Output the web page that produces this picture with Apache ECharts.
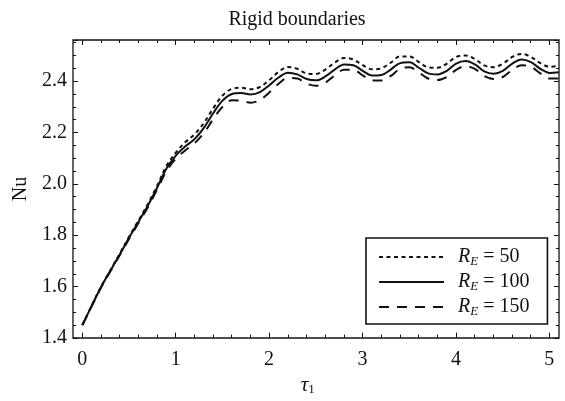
<!DOCTYPE html>
<html>
<head>
<meta charset="utf-8">
<script src="https://cdn.jsdelivr.net/npm/echarts@6/dist/echarts.min.js"></script>
<style>
  html, body { margin: 0; padding: 0; background: #fff; }
  #chart { width: 565px; height: 401px; }
</style>
</head>
<body>
<div id="chart"></div>
<script>
// tau_1 sample points
const tau = [0, 0.1, 0.2, 0.3, 0.4, 0.5, 0.6, 0.7, 0.8, 0.9,
  1.0, 1.1, 1.2, 1.3, 1.4, 1.5, 1.6, 1.7, 1.8, 1.9,
  2.0, 2.1, 2.2, 2.3, 2.4, 2.5, 2.6, 2.7, 2.8, 2.9,
  3.0, 3.1, 3.2, 3.3, 3.4, 3.5, 3.6, 3.7, 3.8, 3.9,
  4.0, 4.1, 4.2, 4.3, 4.4, 4.5, 4.6, 4.7, 4.8, 4.9,
  5.0, 5.1]

// Nu for R_E = 50 (dotted)
const nu50 = [1.450, 1.526, 1.600, 1.664, 1.728, 1.794, 1.857, 1.921, 1.992, 2.070,
  2.122, 2.162, 2.193, 2.237, 2.294, 2.344, 2.370, 2.374, 2.368, 2.377,
  2.404, 2.436, 2.455, 2.448, 2.430, 2.428, 2.445, 2.472, 2.490, 2.484,
  2.462, 2.446, 2.450, 2.472, 2.496, 2.496, 2.474, 2.454, 2.452, 2.468,
  2.494, 2.500, 2.486, 2.461, 2.454, 2.468, 2.494, 2.506, 2.494, 2.470,
  2.456, 2.460]

// Nu for R_E = 100 (solid)
const nu100 = [1.450, 1.525, 1.598, 1.662, 1.725, 1.790, 1.852, 1.915, 1.985, 2.060,
  2.110, 2.145, 2.174, 2.218, 2.275, 2.324, 2.350, 2.354, 2.348, 2.357,
  2.384, 2.414, 2.433, 2.426, 2.408, 2.403, 2.418, 2.445, 2.465, 2.462,
  2.440, 2.422, 2.424, 2.445, 2.470, 2.473, 2.452, 2.430, 2.426, 2.440,
  2.468, 2.478, 2.465, 2.438, 2.429, 2.440, 2.468, 2.484, 2.474, 2.448,
  2.432, 2.434]

// Nu for R_E = 150 (dashed)
const nu150 = [1.450, 1.524, 1.596, 1.660, 1.722, 1.786, 1.848, 1.908, 1.978, 2.050,
  2.098, 2.130, 2.158, 2.198, 2.252, 2.300, 2.325, 2.324, 2.316, 2.326,
  2.356, 2.390, 2.412, 2.410, 2.390, 2.382, 2.394, 2.422, 2.444, 2.444,
  2.422, 2.402, 2.402, 2.420, 2.448, 2.454, 2.434, 2.410, 2.404, 2.416,
  2.444, 2.458, 2.448, 2.420, 2.408, 2.416, 2.444, 2.462, 2.456, 2.430,
  2.410, 2.410]

const legendNames = ['50', '100', '150']

const serif = 'Liberation Serif'
const ink = '#111'

const chart = echarts.init(document.getElementById('chart'))

function pairs (ys) {
  return tau.map((t, i) => [t, ys[i]])
}

function curve (name, ys, dash) {
  return {
    name: name,
    type: 'line',
    xAxisIndex: 0,
    yAxisIndex: 0,
    data: pairs(ys),
    smooth: 0.35,
    symbol: 'none',
    lineStyle: { color: ink, width: 2, type: dash },
    itemStyle: { color: ink },
    z: 3
  }
}

const tickStyle = { color: ink, width: 1 }
const noLine = { show: false, onZero: false }

const options = {
  animation: false,
  backgroundColor: '#fff',
  title: {
    text: 'Rigid boundaries',
    left: 292,
    textAlign: 'center',
    top: 5,
    textStyle: { fontFamily: serif, fontSize: 20, fontWeight: 'normal', color: ink }
  },
  legend: {
    orient: 'vertical',
    left: 366,
    top: 238,
    padding: [9, 18, 6, 12],
    itemWidth: 65,
    itemHeight: 14,
    itemGap: 4,
    borderColor: ink,
    borderWidth: 1.6,
    data: legendNames,
    // hide the marker that the line legend puts in the middle
    itemStyle: { color: 'transparent', borderWidth: 0 },
    formatter: name => '{i|R}{s|E}{t| = ' + name + '}',
    textStyle: {
      fontFamily: serif,
      fontSize: 20,
      color: ink,
      padding: [0, 0, 0, 9],
      rich: {
        i: { fontFamily: serif, fontStyle: 'italic', fontSize: 20, color: ink },
        s: { fontFamily: serif, fontStyle: 'italic', fontSize: 13, color: ink, padding: [9, 0, 0, 0] },
        t: { fontFamily: serif, fontSize: 20, color: ink }
      }
    }
  },
  grid: [
    // frame grid, carries the data
    { left: 73, right: 6, top: 40, bottom: 63, show: true, borderColor: ink, borderWidth: 1.3, backgroundColor: 'transparent' },
    // tick grid for the x axis, 0..5
    { left: 82.3, right: 15.7, top: 40, bottom: 63 }
  ],
  xAxis: [
    {
      gridIndex: 0, type: 'value', min: -0.1, max: 5.1,
      axisLine: noLine, axisTick: { show: false }, axisLabel: { show: false }, splitLine: { show: false }
    },
    {
      gridIndex: 1, type: 'value', min: 0, max: 5, interval: 1, position: 'bottom',
      name: '{i|τ}{s|1}',
      nameLocation: 'middle',
      nameGap: 35,
      nameTextStyle: {
        padding: [0, 16, 0, 0],
        rich: {
          i: { fontFamily: serif, fontStyle: 'italic', fontSize: 21, color: ink },
          s: { fontFamily: serif, fontSize: 13, color: ink, padding: [9, 0, 0, 0] }
        }
      },
      axisLine: noLine,
      axisTick: { inside: true, length: 5, lineStyle: tickStyle },
      minorTick: { show: true, splitNumber: 5, length: 3, lineStyle: tickStyle },
      axisLabel: { fontFamily: serif, fontSize: 20, color: ink, margin: 12 },
      splitLine: { show: false }
    },
    {
      gridIndex: 1, type: 'value', min: 0, max: 5, interval: 1, position: 'top',
      axisLine: noLine,
      axisTick: { inside: true, length: 5, lineStyle: tickStyle },
      minorTick: { show: true, splitNumber: 5, length: 3, lineStyle: tickStyle },
      axisLabel: { show: false },
      splitLine: { show: false }
    }
  ],
  yAxis: [
    {
      gridIndex: 0, type: 'value', min: 1.4, max: 2.56, interval: 0.2, position: 'left',
      name: 'Nu',
      nameLocation: 'middle',
      nameGap: 35,
      nameTextStyle: { fontFamily: serif, fontSize: 20, color: ink },
      axisLine: noLine,
      axisTick: { inside: true, length: 5, lineStyle: tickStyle },
      minorTick: { show: true, splitNumber: 4, length: 3, lineStyle: tickStyle },
      axisLabel: {
        fontFamily: serif, fontSize: 20, color: ink, margin: 6,
        showMaxLabel: false,
        formatter: v => v.toFixed(1)
      },
      splitLine: { show: false }
    },
    {
      gridIndex: 0, type: 'value', min: 1.4, max: 2.56, interval: 0.2, position: 'right',
      axisLine: noLine,
      axisTick: { inside: true, length: 5, lineStyle: tickStyle },
      minorTick: { show: true, splitNumber: 4, length: 3, lineStyle: tickStyle },
      axisLabel: { show: false },
      splitLine: { show: false }
    },
    {
      // helper axis so the tick grid is complete
      gridIndex: 1, type: 'value', min: 0, max: 1, show: false
    }
  ],
  series: [
    curve('50', nu50, [4, 3.5]),
    curve('100', nu100, 'solid'),
    curve('150', nu150, [10, 8])
  ]
}

chart.setOption(options)
</script>
</body>
</html>
